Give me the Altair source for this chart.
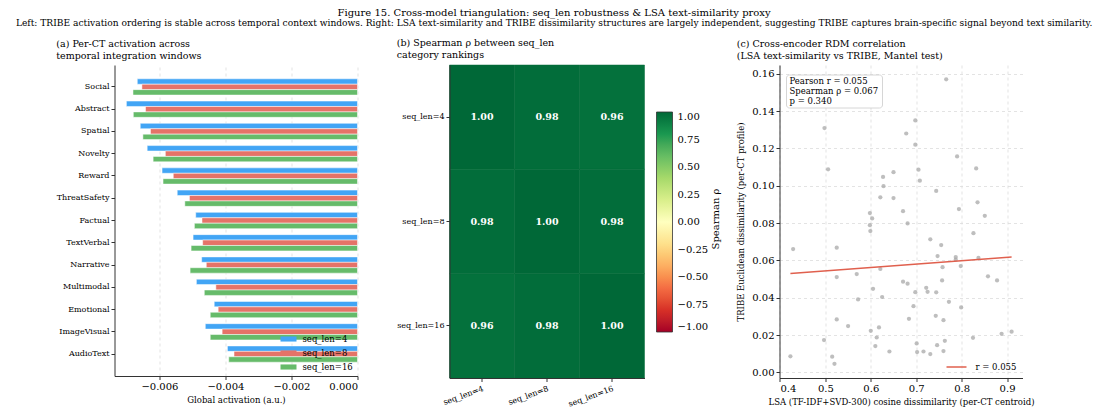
import altair as alt
import pandas as pd

FONT = "DejaVu Serif"

# ---------------- data ----------------
categories = ["Social", "Abstract", "Spatial", "Novelty", "Reward", "ThreatSafety",
              "Factual", "TextVerbal", "Narrative", "Multimodal", "Emotional",
              "ImageVisual", "AudioText"]
series_names = ["seq_len=4", "seq_len=8", "seq_len=16"]
series_colors = ["#42A5F5", "#E57368", "#66BB6A"]
act_seq4 = [-0.00667, -0.00700, -0.00658, -0.00637, -0.00592, -0.00546, -0.00490,
            -0.00498, -0.00472, -0.00488, -0.00434, -0.00461, -0.00394]
act_seq8 = [-0.00653, -0.00642, -0.00627, -0.00582, -0.00558, -0.00509, -0.00471,
            -0.00469, -0.00458, -0.00429, -0.00422, -0.00410, -0.00374]
act_seq16 = [-0.00680, -0.00679, -0.00650, -0.00619, -0.00589, -0.00523, -0.00494,
             -0.00504, -0.00507, -0.00464, -0.00446, -0.00446, -0.00390]

rho_labels = ["seq_len=4", "seq_len=8", "seq_len=16"]
rho_matrix = [[1.00, 0.98, 0.96],
              [0.98, 1.00, 0.98],
              [0.96, 0.98, 1.00]]
rho_ticks = [-1.0, -0.75, -0.5, -0.25, 0.0, 0.25, 0.5, 0.75, 1.0]
rdylgn_colors = ["#a50026", "#d73027", "#f46d43", "#fdae61", "#fee08b", "#ffffbf",
                 "#d9ef8b", "#a6d96a", "#66bd63", "#1a9850", "#006837"]
rdylgn_stops = [-1.0, -0.8, -0.6, -0.4, -0.2, 0.0, 0.2, 0.4, 0.6, 0.8, 1.0]
cbar_title = "Spearman \u03c1"

lsa_x = [0.766, 0.498, 0.698, 0.678, 0.698, 0.790,
         0.506, 0.832, 0.705, 0.627, 0.650, 0.708, 0.628, 0.744, 0.621, 0.650,
         0.835, 0.598, 0.603, 0.671, 0.794, 0.851, 0.598, 0.681, 0.599, 0.826,
         0.429, 0.525, 0.731, 0.755, 0.747, 0.787, 0.837,
         0.787, 0.525, 0.569, 0.621, 0.758, 0.798, 0.671, 0.681, 0.757, 0.858,
         0.878, 0.605, 0.722, 0.725, 0.698, 0.744, 0.625, 0.572, 0.772, 0.694,
         0.799, 0.525, 0.684, 0.743, 0.760, 0.550, 0.618, 0.600, 0.613, 0.497,
         0.701, 0.763, 0.825, 0.888, 0.910, 0.610, 0.746, 0.641, 0.702, 0.716,
         0.760, 0.731, 0.423, 0.515, 0.520]
tribe_y = [0.1570, 0.1309, 0.1350, 0.1280, 0.1220, 0.1157,
           0.1088, 0.1093, 0.1086, 0.1047, 0.1073, 0.1027, 0.0998, 0.0972, 0.0938, 0.0934,
           0.0911, 0.0854, 0.0825, 0.0864, 0.0875, 0.0839, 0.0789, 0.0798, 0.0757, 0.0746,
           0.0661, 0.0668, 0.0713, 0.0682, 0.0623, 0.0618, 0.0613,
           0.0604, 0.0511, 0.0527, 0.0554, 0.0564, 0.0570, 0.0486, 0.0475, 0.0493, 0.0515,
           0.0493, 0.0448, 0.0453, 0.0432, 0.0430, 0.0429, 0.0404, 0.0391, 0.0378, 0.0355,
           0.0348, 0.0284, 0.0287, 0.0303, 0.0280, 0.0248, 0.0241, 0.0223, 0.0187, 0.0173,
           0.0155, 0.0169, 0.0185, 0.0207, 0.0218, 0.0141, 0.0146, 0.0112, 0.0109, 0.0112,
           0.0114, 0.0098, 0.0086, 0.0084, 0.0046]
stats_lines = ["Pearson r = 0.055", "Spearman \u03c1 = 0.067", "p = 0.340"]
fit_label = "r = 0.055"

fig_title = "Figure 15.  Cross-model triangulation: seq_len robustness & LSA text-similarity proxy"
fig_subtitle = ("Left: TRIBE activation ordering is stable across temporal context windows. "
                "Right: LSA text-similarity and TRIBE dissimilarity structures are largely "
                "independent, suggesting TRIBE captures brain-specific signal beyond text similarity.")

# ---------------- tables ----------------
rows = []
for name, vals in zip(series_names, [act_seq4, act_seq8, act_seq16]):
    for c, v in zip(categories, vals):
        rows.append({"category": c, "series": name, "value": v})
bar_df = pd.DataFrame(rows)

heat_df = pd.DataFrame([{"row": rho_labels[i], "col": rho_labels[j], "rho": rho_matrix[i][j]}
                        for i in range(3) for j in range(3)])
cbar_df = pd.DataFrame({"t": [cbar_title]})

sc_df = pd.DataFrame({"lsa": lsa_x, "tribe": tribe_y})
stats_df = pd.DataFrame({"t": ["\n".join(stats_lines)]})

GRID = dict(grid=True, gridDash=[3, 3], gridColor="#dcdcdc", gridWidth=0.8)


def panel_title(lines):
    return alt.Title(lines, anchor="start", fontSize=9.5, fontWeight="normal",
                     font=FONT, offset=5, lineHeight=12, color="black")


# ---------------- panel (a) ----------------
p1 = alt.Chart(bar_df).mark_bar(stroke="white", strokeWidth=0.5).encode(
    x=alt.X("value:Q", stack=None,
            scale=alt.Scale(domain=[-0.00736, 0.0], nice=False, zero=False),
            axis=alt.Axis(values=[-0.006, -0.004, -0.002, 0.0], format=".3f",
                          title="Global activation (a.u.)", labelFontSize=10,
                          titleFontSize=8.5, titleFontWeight="normal", titlePadding=4,
                          labelOverlap=False, **GRID)),
    y=alt.Y("category:N", sort=categories,
            scale=alt.Scale(paddingInner=0.27, paddingOuter=0.62),
            axis=alt.Axis(title=None, labelFontSize=8, grid=False)),
    yOffset=alt.YOffset("series:N", sort=series_names,
                        scale=alt.Scale(paddingInner=0, paddingOuter=0)),
    color=alt.Color("series:N", sort=series_names,
                    scale=alt.Scale(domain=series_names, range=series_colors),
                    legend=alt.Legend(title=None, orient="bottom-right", offset=4,
                                      symbolType="M-1,-0.32H1V0.32H-1Z", symbolSize=256,
                                      symbolStrokeWidth=0, labelFontSize=8.5,
                                      rowPadding=1, labelOffset=6)),
).properties(width=243, height=311,
             title=panel_title(["(a) Per-CT activation across", "temporal integration windows"]))

# ---------------- panel (b) ----------------
heat_scale = alt.Scale(domain=rdylgn_stops, range=rdylgn_colors)
hbase = alt.Chart(heat_df).encode(
    x=alt.X("col:N", sort=rho_labels, scale=alt.Scale(paddingInner=0, paddingOuter=0),
            axis=alt.Axis(title=None, labelAngle=-20, labelAlign="right", labelBaseline="top",
                          labelFontSize=8, labelPadding=3)),
    y=alt.Y("row:N", sort=rho_labels, scale=alt.Scale(paddingInner=0, paddingOuter=0),
            axis=alt.Axis(title=None, labelFontSize=8)),
)
hrect = hbase.mark_rect(stroke="#056b39", strokeWidth=0.5).encode(
    color=alt.Color("rho:Q", scale=heat_scale,
                    legend=alt.Legend(type="gradient", title=None, orient="none", legendX=207,
                                      legendY=47, direction="vertical", gradientLength=220,
                                      gradientThickness=16, values=rho_ticks, format=".2f",
                                      labelFontSize=10, labelBaseline="middle",
                                      labelOverlap=False, gradientStrokeColor="#333",
                                      gradientStrokeWidth=0.8, labelOffset=5)),
)
htext = hbase.mark_text(color="white", fontWeight="bold", fontSize=9.5, font=FONT).encode(
    text=alt.Text("rho:Q", format=".2f"))
ctitle = alt.Chart(cbar_df).mark_text(angle=270, fontSize=10, font=FONT, color="black",
                                      baseline="middle", align="center").encode(
    x=alt.value(266), y=alt.value(154), text="t:N")
p2 = alt.layer(hrect, htext, ctitle).properties(
    width=195, height=313,
    title=panel_title(["(b) Spearman \u03c1 between seq_len", "category rankings"]))

# ---------------- panel (c) ----------------
sbase = alt.Chart(sc_df)
xenc = alt.X("lsa:Q", scale=alt.Scale(domain=[0.399, 0.934], nice=False, zero=False),
             axis=alt.Axis(values=[0.4, 0.5, 0.6, 0.7, 0.8, 0.9], format=".1f",
                           title="LSA (TF-IDF+SVD-300) cosine dissimilarity (per-CT centroid)",
                           labelFontSize=10, titleFontSize=8.5, titleFontWeight="normal",
                           titlePadding=4, labelOverlap=False, **GRID))
yenc = alt.Y("tribe:Q", scale=alt.Scale(domain=[-0.003, 0.1647], nice=False, zero=False),
             axis=alt.Axis(values=[0.0, 0.02, 0.04, 0.06, 0.08, 0.10, 0.12, 0.14, 0.16],
                           format=".2f", title="TRIBE Euclidean dissimilarity (per-CT profile)",
                           labelFontSize=10, titleFontSize=8.5, titleFontWeight="normal",
                           titlePadding=6, labelOverlap=False, **GRID))
pts = sbase.mark_circle(size=18, color="#a8a8a8", opacity=0.75).encode(x=xenc, y=yenc)
fit = sbase.transform_regression("lsa", "tribe").transform_calculate(
    lbl=f"'{fit_label}'"
).mark_line(strokeWidth=1.5).encode(
    x=xenc, y=yenc,
    color=alt.Color("lbl:N", scale=alt.Scale(range=["#E0604E"]),
                    legend=alt.Legend(title=None, orient="bottom-right", offset=6,
                                      symbolType="stroke", symbolSize=400,
                                      symbolStrokeWidth=1.5, labelFontSize=8.5,
                                      labelOffset=8)))
box = alt.Chart(stats_df).mark_rect(fill="white", stroke="#cccccc", strokeWidth=0.8,
                                    cornerRadius=3).encode(
    x=alt.value(7), x2=alt.value(103), y=alt.value(10), y2=alt.value(43))
stxt = alt.Chart(stats_df).mark_text(align="left", baseline="top", fontSize=8.5, font=FONT,
                                     lineBreak="\n", lineHeight=9.8, color="black").encode(
    x=alt.value(10), y=alt.value(12), text="t:N")
p3 = alt.layer(pts, fit, box, stxt).properties(
    width=243, height=313,
    title=panel_title(["(c) Cross-encoder RDM correlation",
                       "(LSA text-similarity vs TRIBE, Mantel test)"]))

left_pair = alt.hconcat(p1, p2, spacing=38).resolve_scale(color="independent").resolve_legend(
    color="independent")

chart = alt.hconcat(left_pair, p3, spacing=16).resolve_scale(
    color="independent"
).resolve_legend(color="independent").properties(
    title=alt.Title(fig_title, subtitle=fig_subtitle, anchor="middle", dx=9, fontSize=10.0,
                    fontWeight="normal", font=FONT, color="black", subtitleFont=FONT,
                    subtitleFontSize=9.1, subtitleColor="black", subtitlePadding=1,
                    offset=10),
    padding={"left": 7.5, "top": 0, "right": 2, "bottom": 2},
).configure(font=FONT).configure_view(stroke=None).configure_axis(
    labelFont=FONT, titleFont=FONT, domainColor="#333333", tickColor="#333333",
    labelColor="black", titleColor="black", tickSize=3.5, domainWidth=1
).configure_legend(labelFont=FONT, titleFont=FONT, labelColor="black", titleColor="black")

chart.save("out.html", embed_options={"renderer": "svg", "actions": False})
